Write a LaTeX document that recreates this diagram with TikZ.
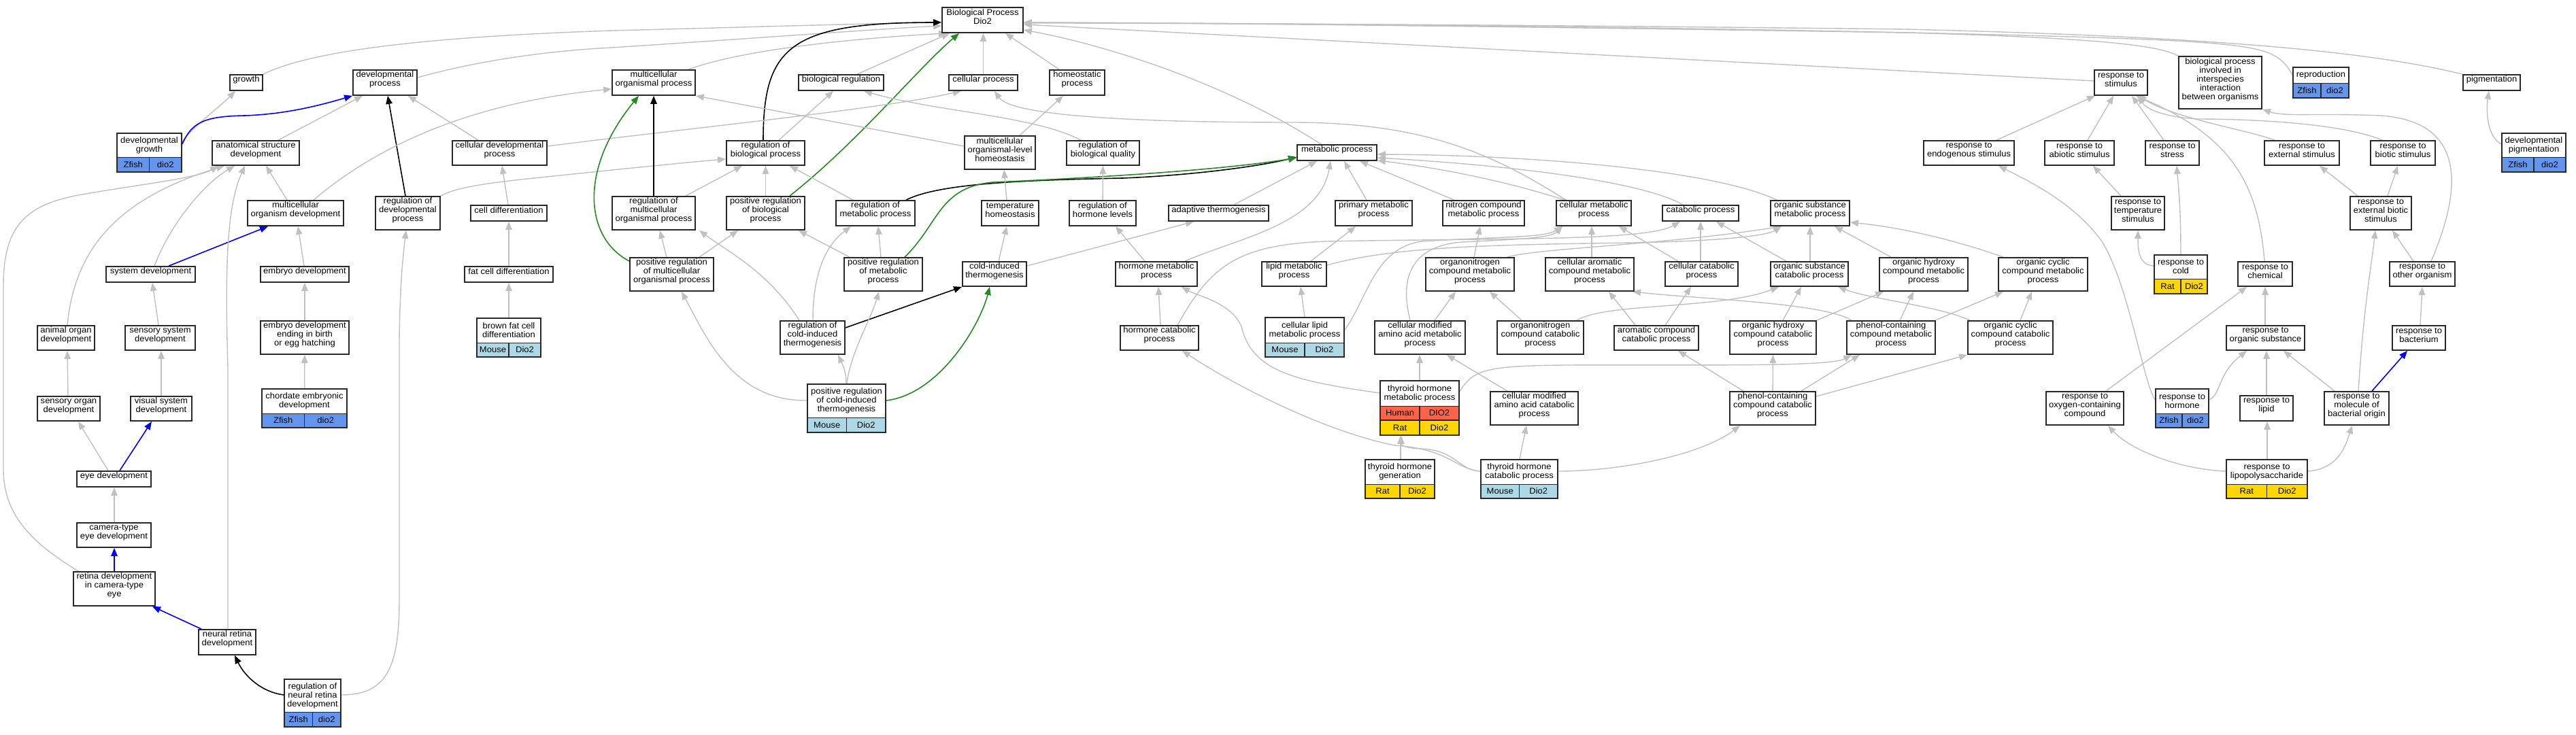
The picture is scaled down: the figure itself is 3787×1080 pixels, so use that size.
\documentclass[tikz,border=0pt]{standalone}
\usepackage{fontspec}
\setmainfont{Liberation Sans}[FakeStretch=1.05]
\usetikzlibrary{fit,arrows.meta}
\pgfdeclarelayer{edges}
\pgfsetlayers{edges,main}
\definecolor{eg}{RGB}{192,192,192}
\definecolor{zf}{RGB}{100,149,237}
\definecolor{ms}{RGB}{173,216,230}
\definecolor{rt}{RGB}{255,215,0}
\definecolor{hu}{RGB}{255,99,71}
\definecolor{gg}{RGB}{34,139,34}
\definecolor{bd}{RGB}{40,40,40}
\tikzset{
  box/.style={draw=bd, fill=white, line width=1.8pt, inner sep=0pt, align=center,
    font=\fontsize{12.4}{13}\selectfont},
  tframe/.style={draw=bd, line width=1.8pt, inner sep=0pt},
  lbl/.style={inner sep=0pt, align=center, font=\fontsize{12.4}{13}\selectfont},
  tline/.style={draw=bd, line width=1.5pt},
  ge/.style={draw=eg, line width=1.4pt, -{Triangle[length=12pt,width=9.5pt]}},
  be/.style={draw=blue, line width=1.6pt, -{Triangle[length=12pt,width=9.5pt]}},
  ke/.style={draw=black, line width=1.6pt, -{Triangle[length=12pt,width=9.5pt]}},
  gre/.style={draw=gg, line width=1.6pt, -{Triangle[length=12pt,width=9.5pt]}}
}
% plain box: name, xl, yt, xr, yb, text
\newcommand{\gonode}[6]{\node[box, fit={(#2,#3) (#4,#5)}] (#1) {#6};}
% coloured table row: xl, yt, xr, yb, colour, left, right
\newcommand{\gorow}[7]{%
  \fill[#5] (#1,#2) rectangle (#3,#4);
  \draw[tline] (#1,#2) -- (#3,#2);
  \draw[tline] ({(#1+#3)/2},#2) -- ({(#1+#3)/2},#4);
  \node[lbl] at ({(3*#1+#3)/4},{(#2+#4)/2}) {#6};
  \node[lbl] at ({(#1+3*#3)/4},{(#2+#4)/2}) {#7};}
% table box frame: name, xl, yt, xr, ym, yb, text
\newcommand{\gotab}[7]{%
  \fill[white] (#2,#3) rectangle (#4,#5);
  \node[tframe, fit={(#2,#3) (#4,#6)}] (#1) {};
  \node[lbl] at ({(#2+#4)/2},{(#3+#5)/2}) {#7};}
\begin{document}
\begin{tikzpicture}[x=1pt,y=-1pt]
\useasboundingbox (0,0) rectangle (3787,1080);
% ---------------- nodes ----------------
\gonode{bp}{1385}{11}{1504}{48}{Biological Process\\Dio2}
\gonode{growth}{338}{110}{386}{133}{growth}
\gonode{devproc}{519}{103}{613}{140}{developmental\\process}
\gonode{mop}{900}{103}{1022}{140}{multicellular\\organismal process}
\gonode{bioreg}{1174}{110}{1299}{133}{biological regulation}
\gonode{cellproc}{1395}{110}{1496}{133}{cellular process}
\gonode{homeo}{1543}{103}{1624}{140}{homeostatic\\process}
\gonode{rstim}{3079}{103}{3157}{140}{response to\\stimulus}
\gonode{inter}{3203}{83}{3325}{160}{biological process\\involved in\\interspecies\\interaction\\between organisms}
\gorow{3371}{122}{3453}{144}{zf}{Zfish}{dio2}
\gotab{repro}{3371}{99}{3453}{122}{144}{reproduction}
\gonode{pigm}{3621}{110}{3705}{133}{pigmentation}

\gorow{172}{231}{267}{253}{zf}{Zfish}{dio2}
\gotab{devgrowth}{172}{196}{267}{231}{253}{developmental\\growth}
\gonode{asd}{312}{207}{440}{243}{anatomical structure\\development}
\gonode{cdp}{665}{207}{804}{243}{cellular developmental\\process}
\gonode{rbp}{1068}{207}{1183}{243}{regulation of\\biological process}
\gonode{molh}{1418}{200}{1522}{249}{multicellular\\organismal-level\\homeostasis}
\gonode{rbq}{1568}{207}{1675}{243}{regulation of\\biological quality}
\gonode{metab}{1907}{213}{2024}{236}{metabolic process}
\gonode{rendo}{2828}{207}{2961}{243}{response to\\endogenous stimulus}
\gonode{rabio}{3006}{207}{3108}{243}{response to\\abiotic stimulus}
\gonode{rstress}{3154}{207}{3233}{243}{response to\\stress}
\gonode{rext}{3329}{207}{3439}{243}{response to\\external stimulus}
\gonode{rbiotic}{3485}{207}{3580}{243}{response to\\biotic stimulus}
\gorow{3678}{231}{3772}{253}{zf}{Zfish}{dio2}
\gotab{devpigm}{3678}{196}{3772}{231}{253}{developmental\\pigmentation}

\gonode{mod}{364}{295}{505}{332}{multicellular\\organism development}
\gonode{rdp}{552}{289}{647}{338}{regulation of\\developmental\\process}
\gonode{celldiff}{692}{302}{804}{325}{cell differentiation}
\gonode{rmop}{900}{289}{1022}{338}{regulation of\\multicellular\\organismal process}
\gonode{prbp}{1068}{289}{1183}{338}{positive regulation\\of biological\\process}
\gonode{rmp}{1229}{295}{1345}{332}{regulation of\\metabolic process}
\gonode{temph}{1443}{295}{1527}{332}{temperature\\homeostasis}
\gonode{rhl}{1572}{295}{1670}{332}{regulation of\\hormone levels}
\gonode{adapt}{1718}{302}{1865}{325}{adaptive thermogenesis}
\gonode{primary}{1963}{295}{2076}{332}{primary metabolic\\process}
\gonode{nitro}{2121}{295}{2241}{332}{nitrogen compound\\metabolic process}
\gonode{cellmet}{2288}{295}{2398}{332}{cellular metabolic\\process}
\gonode{catab}{2444}{302}{2556}{325}{catabolic process}
\gonode{osmp}{2603}{295}{2719}{332}{organic substance\\metabolic process}
\gonode{rtemp}{3104}{289}{3182}{338}{response to\\temperature\\stimulus}
\gonode{rextbio}{3455}{289}{3545}{338}{response to\\external biotic\\stimulus}

\gonode{sysdev}{156}{392}{287}{415}{system development}
\gonode{embdev}{383}{392}{513}{415}{embryo development}
\gonode{fatcell}{683}{392}{813}{415}{fat cell differentiation}
\gonode{prmop}{926}{379}{1049}{428}{positive regulation\\of multicellular\\organismal process}
\gonode{prmp}{1241}{379}{1356}{428}{positive regulation\\of metabolic\\process}
\gonode{cold}{1415}{385}{1509}{421}{cold-induced\\thermogenesis}
\gonode{hmp}{1640}{385}{1760}{421}{hormone metabolic\\process}
\gonode{lipid}{1855}{385}{1950}{421}{lipid metabolic\\process}
\gonode{onmp}{2096}{379}{2226}{428}{organonitrogen\\compound metabolic\\process}
\gonode{camp}{2272}{379}{2402}{428}{cellular aromatic\\compound metabolic\\process}
\gonode{ccp}{2448}{385}{2555}{421}{cellular catabolic\\process}
\gonode{oscp}{2603}{385}{2717}{421}{organic substance\\catabolic process}
\gonode{ohmp}{2763}{379}{2893}{428}{organic hydroxy\\compound metabolic\\process}
\gonode{ocmp}{2938}{379}{3069}{428}{organic cyclic\\compound metabolic\\process}
\gorow{3167}{410}{3245}{432}{rt}{Rat}{Dio2}
\gotab{rcold}{3167}{375}{3245}{410}{432}{response to\\cold}
\gonode{rchem}{3290}{385}{3370}{421}{response to\\chemical}
\gonode{rother}{3513}{385}{3609}{421}{response to\\other organism}

\gonode{aod}{55}{479}{139}{515}{animal organ\\development}
\gonode{ssd}{184}{479}{287}{515}{sensory system\\development}
\gonode{edeb}{383}{472}{513}{521}{embryo development\\ending in birth\\or egg hatching}
\gorow{701}{504}{795}{525}{ms}{Mouse}{Dio2}
\gotab{bfcd}{701}{468}{795}{504}{525}{brown fat cell\\differentiation}
\gonode{rcit}{1147}{472}{1242}{521}{regulation of\\cold-induced\\thermogenesis}
\gonode{hcp}{1647}{479}{1762}{515}{hormone catabolic\\process}
\gorow{1860}{504}{1976}{525}{ms}{Mouse}{Dio2}
\gotab{clmp}{1860}{467}{1976}{504}{525}{cellular lipid\\metabolic process}
\gonode{cmaamp}{2021}{472}{2154}{521}{cellular modified\\amino acid metabolic\\process}
\gonode{onccp}{2201}{472}{2328}{521}{organonitrogen\\compound catabolic\\process}
\gonode{accp}{2373}{479}{2497}{515}{aromatic compound\\catabolic process}
\gonode{ohccp}{2543}{472}{2670}{521}{organic hydroxy\\compound catabolic\\process}
\gonode{pcmp}{2715}{472}{2845}{521}{phenol-containing\\compound metabolic\\process}
\gonode{occp}{2893}{472}{3018}{521}{organic cyclic\\compound catabolic\\process}
\gonode{rorg}{3273}{479}{3388}{515}{response to\\organic substance}
\gonode{rbact}{3517}{479}{3595}{515}{response to\\bacterium}

\gonode{sod}{55}{583}{147}{619}{sensory organ\\development}
\gonode{vsd}{192}{583}{282}{619}{visual system\\development}
\gorow{385}{608}{510}{629}{zf}{Zfish}{dio2}
\gotab{ced}{385}{572}{510}{608}{629}{chordate embryonic\\development}
\gorow{1187}{614}{1302}{636}{ms}{Mouse}{Dio2}
\gotab{prcit}{1187}{565}{1302}{614}{636}{positive regulation\\of cold-induced\\thermogenesis}
\gorow{2029}{597}{2145}{618}{hu}{Human}{DIO2}
\gorow{2029}{618}{2145}{640}{rt}{Rat}{Dio2}
\gotab{thmp}{2029}{560}{2145}{597}{640}{thyroid hormone\\metabolic process}
\gonode{cmaacp}{2191}{576}{2320}{625}{cellular modified\\amino acid catabolic\\process}
\gonode{pccp}{2543}{576}{2669}{625}{phenol-containing\\compound catabolic\\process}
\gonode{roxy}{3008}{576}{3122}{625}{response to\\oxygen-containing\\compound}
\gorow{3169}{608}{3247}{629}{zf}{Zfish}{dio2}
\gotab{rhorm}{3169}{572}{3247}{608}{629}{response to\\hormone}
\gonode{rlipid}{3293}{582}{3371}{619}{response to\\lipid}
\gonode{rmbo}{3417}{576}{3512}{625}{response to\\molecule of\\bacterial origin}

\gonode{eyedev}{113}{693}{222}{716}{eye development}
\gorow{2007}{712}{2109}{733}{rt}{Rat}{Dio2}
\gotab{thg}{2007}{676}{2109}{712}{733}{thyroid hormone\\generation}
\gorow{2177}{712}{2290}{733}{ms}{Mouse}{Dio2}
\gotab{thcp}{2177}{676}{2290}{712}{733}{thyroid hormone\\catabolic process}
\gorow{3273}{712}{3392}{733}{rt}{Rat}{Dio2}
\gotab{rlps}{3273}{676}{3392}{712}{733}{response to\\lipopolysaccharide}
\gonode{camera}{113}{769}{222}{805}{camera-type\\eye development}
\gonode{retina}{108}{841}{228}{891}{retina development\\in camera-type\\eye}
\gonode{nrd}{292}{926}{376}{963}{neural retina\\development}
\gorow{418}{1047}{501}{1069}{zf}{Zfish}{dio2}
\gotab{rnrd}{418}{999}{501}{1047}{1069}{regulation of\\neural retina\\development}

% ---------------- edges ----------------
\begin{pgfonlayer}{edges}
\fill[white] (0,0) rectangle (3787,1080);
% into Biological Process
\draw[ge] (growth.north east) .. controls (450,78) and (600,55) .. (900,45) .. controls (1100,40) and (1250,35) .. (bp.west |- 0,33);
\draw[ge] (devproc.east |- 0,114) .. controls (700,90) and (800,75) .. (900,70) .. controls (1100,57) and (1300,42) .. (bp.west |- 0,38);
\draw[ge] (mop.north -| 1012,0) .. controls (1100,70) and (1280,55) .. (bp.south -| 1392,0);
\draw[ge] (bioreg.north -| 1260,0) -- (bp.south -| 1396,0);
\draw[ke] (rbp.north -| 1122,0) .. controls (1122,70) and (1160,33) .. (bp.west |- 0,33);
\draw[gre] (prbp.north -| 1161,0) .. controls (1260,210) and (1350,100) .. (bp.south -| 1410,0);
\draw[ge] (cellproc.north) -- (cellproc.north |- bp.south);
\draw[ge] (homeo.north -| 1557,0) -- (bp.south -| 1478,0);
\draw[ge] (metab.north -| 1942,0) .. controls (1800,120) and (1620,65) .. (bp.east |- 0,44);
\draw[ge] (rstim.west |- 0,119) -- (bp.east |- 0,36);
\draw[ge] (inter.north west) .. controls (3170,64) and (3050,55) .. (2800,48) .. controls (2300,40) and (1800,34) .. (bp.east |- 0,33);
\draw[ge] (repro.west |- 0,110) .. controls (3350,75) and (3330,68) .. (3200,60) .. controls (2900,45) and (2000,34) .. (bp.east |- 0,33);
\draw[ge] (pigm.north west) .. controls (3500,80) and (3300,55) .. (2800,43) .. controls (2300,37) and (1800,34) .. (bp.east |- 0,34);
% developmental cluster
\draw[ge] (devgrowth.east |- 0,208) .. controls (285,185) and (320,160) .. (growth.south -| 346,0);
\draw[be] (devgrowth.east |- 0,212) .. controls (282,180) and (300,171) .. (360,170) .. controls (420,168) and (470,155) .. (devproc.south west);
\draw[ge] (asd.north -| 409,0) -- (devproc.south -| 533,0);
\draw[ge] (cdp.north -| 703,0) -- (devproc.south -| 600,0);
\draw[ke] (rdp.north -| 596,0) -- (devproc.south -| 570,0);
\draw[ge] (cdp.east |- 0,215) .. controls (1000,190) and (1300,160) .. (cellproc.south -| 1413,0);
\draw[ge] (rdp.north east) .. controls (680,270) and (760,265) .. (900,250) .. controls (980,242) and (1030,237) .. (rbp.west |- 0,234);
\draw[ge] (mod.north -| 422,0) -- (asd.south -| 391,0);
\draw[ge] (mod.north -| 461,0) .. controls (560,210) and (700,150) .. (mop.west |- 0,131);
\draw[ge] (celldiff.north -| 747,0) -- (cdp.south -| 738,0);
\draw[ge] (sysdev.north -| 227,0) .. controls (250,330) and (300,270) .. (asd.south -| 345,0);
\draw[be] (sysdev.north -| 248,0) -- (mod.south -| 394,0);
\draw[ge] (embdev.north -| 447,0) -- (mod.south -| 438,0);
\draw[ge] (fatcell) -- (celldiff);
\draw[ge] (aod.north -| 99,0) .. controls (110,360) and (180,290) .. (asd.south -| 330,0);
\draw[ge] (ssd.north -| 233,0) -- (sysdev.south -| 224,0);
\draw[ge] (edeb) -- (embdev);
\draw[ge] (bfcd) -- (fatcell);
\draw[ge] (retina.north -| 115,0) .. controls (50,800) and (5,760) .. (5,690) -- (5,420) .. controls (5,330) and (40,300) .. (121,286) .. controls (200,272) and (290,262) .. (asd.south -| 321,0);
\draw[ge] (nrd.north -| 335,0) -- (335,540) .. controls (330,380) and (335,300) .. (asd.south -| 360,0);
\draw[ge] (rnrd.east |- 0,1022) .. controls (570,1022) and (587,980) .. (587,880) -- (587,500) .. controls (588,420) and (592,380) .. (rdp.south -| 597,0);
\draw[ke] (rnrd.west |- 0,1022) .. controls (385,1018) and (360,995) .. (nrd.south -| 345,0);
\draw[be] (nrd.north -| 296,0) -- (retina.south -| 224,0);
\draw[be] (retina.north -| 168,0) -- (camera.south -| 168,0);
\draw[ge] (camera.north -| 168,0) -- (eyedev.south -| 168,0);
\draw[ge] (eyedev.north -| 159,0) -- (sod.south -| 115,0);
\draw[be] (eyedev.north -| 176,0) -- (vsd.south -| 223,0);
\draw[ge] (sod.north -| 100,0) -- (aod.south -| 99,0);
\draw[ge] (vsd.north -| 237,0) -- (ssd.south -| 237,0);
\draw[ge] (ced) -- (edeb);
% regulation cluster
\draw[ge] (rbq.north -| 1589,0) .. controls (1520,170) and (1380,165) .. (bioreg.south -| 1270,0);
\draw[ge] (rbp.north -| 1145,0) -- (bioreg.south -| 1225,0);
\draw[ge] (molh.north -| 1499,0) -- (homeo.south -| 1563,0);
\draw[ge] (molh.west |- 0,215) -- (mop.south east);
\draw[ke] (rmop) -- (mop);
\draw[ge] (rmop.north -| 1008,0) -- (rbp.south -| 1091,0);
\draw[ge] (prbp) -- (rbp);
\draw[ge] (rmp.north -| 1254,0) -- (rbp.south -| 1161,0);
\draw[ke] (rmp.north -| 1332,0) .. controls (1380,270) and (1500,265) .. (1650,262) .. controls (1750,258) and (1850,245) .. (metab.west |- 0,231);
\draw[gre] (prmp.north -| 1330,0) .. controls (1380,330) and (1380,275) .. (1460,268) .. controls (1600,262) and (1800,250) .. (metab.west |- 0,232);
\draw[ge] (prmp.north -| 1295,0) -- (rmp.south -| 1291,0);
\draw[ge] (prmp.north -| 1249,0) -- (prbp.south -| 1174,0);
\draw[ge] (temph.north -| 1480,0) -- (molh.south -| 1476,0);
\draw[ge] (rhl) -- (rbq);
\draw[ge] (adapt.north -| 1814,0) -- (metab.south -| 1936,0);
\draw[ge] (prmop.north -| 980,0) -- (rmop.south -| 970,0);
\draw[ge] (prmop.north -| 1028,0) -- (prbp.south -| 1085,0);
\draw[gre] (prmop.west |- 0,384) .. controls (860,350) and (850,250) .. (mop.south -| 939,0);
\draw[ge] (cold.north -| 1468,0) -- (temph.south -| 1480,0);
\draw[ge] (cold.east |- 0,391) -- (adapt.south -| 1755,0);
\draw[ge] (hmp.north -| 1683,0) -- (rhl.south -| 1640,0);
\draw[ge] (hmp.north -| 1742,0) .. controls (1820,350) and (1940,330) .. (metab.south -| 1956,0);
\draw[ge] (hcp.north -| 1706,0) -- (hmp.south -| 1703,0);
\draw[ge] (hcp.north -| 1731,0) .. controls (1780,390) and (1820,360) .. (1950,355) .. controls (2200,350) and (2420,355) .. (catab.south -| 2470,0);
\draw[ke] (rcit.east |- 0,482) -- (cold.south west);
\draw[ge] (rcit.north -| 1175,0) .. controls (1130,400) and (1070,370) .. (rmop.south -| 1028,0);
\draw[ge] (rcit.north -| 1195,0) .. controls (1195,400) and (1215,360) .. (rmp.south -| 1251,0);
\draw[ge] (prcit.north -| 1244,0) .. controls (1244,545) and (1238,535) .. (rcit.south -| 1232,0);
\draw[ge] (prcit.north -| 1245,0) .. controls (1250,520) and (1280,470) .. (prmp.south -| 1292,0);
\draw[ge] (prcit.west |- 0,589) .. controls (1080,590) and (1040,500) .. (prmop.south -| 1002,0);
\draw[gre] (prcit.east |- 0,589) .. controls (1380,580) and (1440,480) .. (cold.south -| 1455,0);
% metabolic cluster
\draw[ge] (cellmet.north -| 2302,0) .. controls (2200,230) and (2100,180) .. (1900,180) .. controls (1560,180) and (1480,160) .. (cellproc.south -| 1462,0);
\draw[ge] (catab.north -| 2474,0) .. controls (2420,270) and (2250,245) .. (metab.east |- 0,232);
\draw[ge] (osmp.north -| 2612,0) .. controls (2520,250) and (2250,228) .. (metab.east |- 0,227);
\draw[ge] (cellmet.north -| 2300,0) .. controls (2200,262) and (2100,245) .. (metab.east |- 0,236);
\draw[ge] (primary.north -| 2009,0) -- (metab.south -| 1976,0);
\draw[ge] (nitro.north -| 2138,0) -- (metab.south -| 1999,0);
\draw[ge] (clmp.north -| 1918,0) -- (lipid.south -| 1912,0);
\draw[ge] (clmp.east |- 0,485) .. controls (2010,440) and (2020,365) .. (2090,355) .. controls (2200,348) and (2270,350) .. (cellmet.south -| 2297,0);
\draw[ge] (cmaamp.north -| 2073,0) .. controls (2060,420) and (2065,362) .. (2150,356) .. controls (2230,352) and (2280,350) .. (cellmet.south -| 2297,0);
\draw[ge] (lipid.north -| 1927,0) -- (primary.south -| 1993,0);
\draw[ge] (lipid.east |- 0,390) .. controls (2050,362) and (2200,360) .. (2400,357) .. controls (2550,354) and (2600,345) .. (osmp.south -| 2619,0);
\draw[ge] (onmp.north -| 2216,0) .. controls (2260,365) and (2450,360) .. (osmp.south -| 2619,0);
\draw[ge] (onmp.north -| 2167,0) -- (nitro.south -| 2176,0);
\draw[ge] (cmaamp.north -| 2109,0) -- (onmp.south -| 2140,0);
\draw[ge] (onccp.north -| 2237,0) -- (onmp.south -| 2190,0);
\draw[ge] (onccp.north -| 2318,0) .. controls (2360,445) and (2530,455) .. (oscp.south -| 2615,0);
\draw[ge] (cmaacp.north -| 2216,0) -- (cmaamp.south -| 2127,0);
\draw[ge] (thmp.north -| 2087,0) -- (cmaamp.south -| 2087,0);
\draw[ge] (thmp.east |- 0,576) .. controls (2165,545) and (2180,538) .. (2300,537) .. controls (2500,536) and (2690,540) .. (pcmp.south -| 2722,0);
\draw[ge] (thmp.west |- 0,578) .. controls (1900,560) and (1840,545) .. (1825,480) .. controls (1810,445) and (1760,435) .. (hmp.south -| 1737,0);
\draw[ge] (thg.north -| 2059,0) -- (thmp.south -| 2059,0);
\draw[ge] (thcp.west |- 0,693) .. controls (2145,692) and (2140,662) .. (2090,660) .. controls (2065,659) and (2060,655) .. (thmp.south -| 2060,0);
\draw[ge] (thcp.west |- 0,693) .. controls (2140,690) and (2130,660) .. (2050,655) .. controls (1950,635) and (1820,570) .. (hcp.south -| 1738,0);
\draw[ge] (thcp.north -| 2234,0) -- (cmaacp.south -| 2244,0);
\draw[ge] (thcp.east |- 0,693) .. controls (2380,693) and (2500,670) .. (pccp.south -| 2558,0);
\draw[ge] (pccp.north -| 2563,0) -- (accp.south -| 2467,0);
\draw[ge] (pccp) -- (ohccp);
\draw[ge] (pccp.north -| 2648,0) -- (pcmp.south -| 2734,0);
\draw[ge] (pccp.east |- 0,583) -- (occp.south west);
\draw[ge] (accp.north -| 2404,0) -- (camp.south -| 2365,0);
\draw[ge] (accp.north -| 2448,0) -- (ccp.south -| 2486,0);
\draw[ge] (ccp.north -| 2500,0) -- (catab.south -| 2500,0);
\draw[ge] (ccp.north -| 2467,0) -- (cellmet.south -| 2380,0);
\draw[ge] (camp.north -| 2340,0) -- (cellmet.south -| 2340,0);
\draw[ge] (oscp.north -| 2626,0) -- (catab.south -| 2523,0);
\draw[ge] (oscp.north -| 2661,0) -- (osmp.south -| 2661,0);
\draw[ge] (ohmp.north -| 2780,0) -- (osmp.south -| 2697,0);
\draw[ge] (ocmp.north -| 2945,0) .. controls (2880,355) and (2800,335) .. (osmp.east |- 0,327);
\draw[ge] (ohccp.north -| 2621,0) -- (oscp.south -| 2648,0);
\draw[ge] (ohccp.north -| 2671,0) -- (ohmp.south -| 2769,0);
\draw[ge] (pcmp.north -| 2793,0) -- (ohmp.south -| 2813,0);
\draw[ge] (pcmp.north -| 2845,0) -- (ocmp.south -| 2945,0);
\draw[ge] (pcmp.north -| 2722,0) .. controls (2680,445) and (2500,440) .. (camp.south -| 2400,0);
\draw[ge] (occp.north -| 2896,0) .. controls (2850,450) and (2750,440) .. (oscp.south -| 2702,0);
\draw[ge] (occp.north -| 2970,0) -- (ocmp.south -| 2987,0);
% response cluster
\draw[ge] (rendo.north -| 2935,0) -- (rstim.south -| 3080,0);
\draw[ge] (rabio.north -| 3069,0) -- (rstim.south -| 3107,0);
\draw[ge] (rstress.north -| 3181,0) -- (rstim.south -| 3134,0);
\draw[ge] (rext.north -| 3344,0) .. controls (3300,190) and (3200,175) .. (rstim.south -| 3143,0);
\draw[ge] (rbiotic.north -| 3502,0) .. controls (3440,180) and (3300,175) .. (3230,175) .. controls (3180,172) and (3155,160) .. (rstim.south -| 3143,0);
\draw[ge] (rchem.north -| 3329,0) .. controls (3320,270) and (3280,200) .. (rstim.south -| 3140,0);
\draw[ge] (rother.north -| 3574,0) .. controls (3610,300) and (3640,180) .. (3500,170) .. controls (3400,166) and (3360,172) .. (inter.south east);
\draw[ge] (rtemp.north -| 3118,0) -- (rabio.south -| 3077,0);
\draw[ge] (rcold.west |- 0,391) .. controls (3145,390) and (3143,370) .. (rtemp.south -| 3143,0);
\draw[ge] (rcold.north -| 3206,0) .. controls (3206,300) and (3202,270) .. (rstress.south -| 3200,0);
\draw[ge] (rextbio.north -| 3466,0) -- (rext.south -| 3410,0);
\draw[ge] (rextbio.north -| 3510,0) -- (rbiotic.south -| 3525,0);
\draw[ge] (rother.north -| 3548,0) -- (rextbio.south -| 3517,0);
\draw[ge] (rorg.north -| 3330,0) -- (rchem.south -| 3330,0);
\draw[ge] (rbact.north -| 3558,0) -- (rother.south -| 3561,0);
\draw[ge] (roxy.north -| 3096,0) -- (rchem.south -| 3303,0);
\draw[ge] (rhorm.east |- 0,588) .. controls (3265,580) and (3260,550) .. (rorg.south -| 3303,0);
\draw[ge] (rhorm.west |- 0,588) .. controls (3150,560) and (3130,420) .. (3090,355) .. controls (3050,300) and (2990,270) .. (rendo.south -| 2938,0);
\draw[ge] (rlipid.north -| 3332,0) -- (rorg.south -| 3332,0);
\draw[ge] (rmbo.north -| 3432,0) -- (rorg.south -| 3357,0);
\draw[be] (rmbo.north -| 3487,0) -- (rbact.south -| 3539,0);
\draw[ge] (rmbo.north -| 3467,0) .. controls (3475,450) and (3485,400) .. (rextbio.south -| 3492,0);
\draw[ge] (rlps.west |- 0,693) .. controls (3200,690) and (3130,660) .. (roxy.south -| 3099,0);
\draw[ge] (rlps.north -| 3333,0) -- (rlipid.south -| 3333,0);
\draw[ge] (rlps.east |- 0,693) .. controls (3440,690) and (3450,650) .. (rmbo.south -| 3458,0);
\draw[ge] (devpigm.west |- 0,212) .. controls (3655,200) and (3655,160) .. (pigm.south -| 3659,0);
\end{pgfonlayer}
\end{tikzpicture}
\end{document}
